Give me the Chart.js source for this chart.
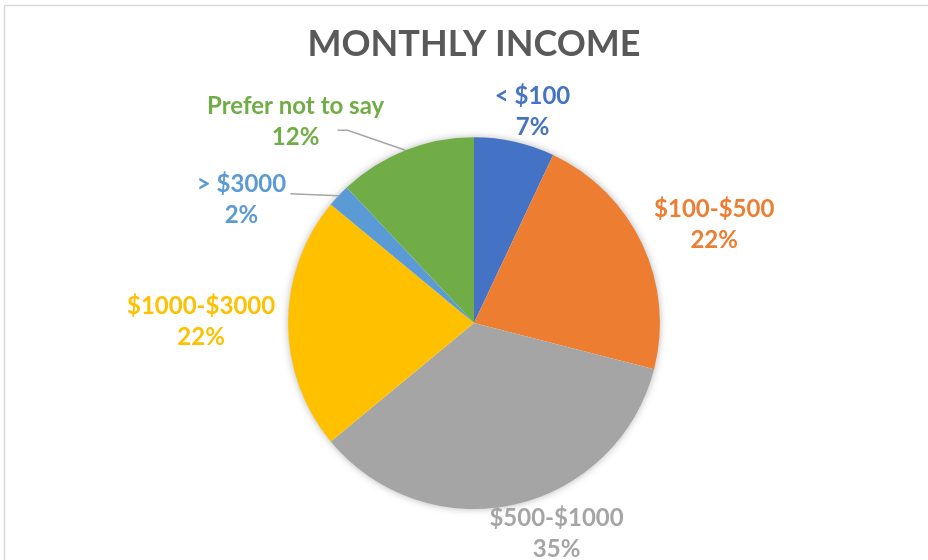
<!DOCTYPE html>
<html>
<head>
<meta charset="utf-8">
<script src="https://cdn.jsdelivr.net/npm/chart.js@4"></script>
<style>
  html, body { margin: 0; padding: 0; background: #fff; }
  #wrap { width: 928px; height: 560px; }
</style>
</head>
<body>
<div id="wrap"><canvas id="incomeChart" width="928" height="560"></canvas></div>
<script>
// chart data
let categories = ['< $100', '$100-$500', '$500-$1000', '$1000-$3000', '> $3000', 'Prefer not to say'];
let shares = [7, 22, 35, 22, 2, 12];
let sliceColors = ['#4472C4', '#ED7D31', '#A5A5A5', '#FFC000', '#5B9BD5', '#70AD47'];

// where each label sits, relative to the outer middle of its slice
// lead = start of the leader line, relative to the label centre
let labelLayout = [
  { dx: 18, dy: -30 },
  { dx: 72, dy: -19 },
  { dx: 42, dy: 29 },
  { dx: -87, dy: -1 },
  { dx: -97, dy: 4, lead: [49, -6], knee: 0 },
  { dx: -110, dy: -28, lead: [42, 8], knee: 10 }
];

const labelFont = 'bold 24px Lato, "Open Sans", sans-serif';

// light frame round the chart, like the excel chart area
const framePlugin = {
  id: 'frame',
  beforeDraw(chart) {
    const ctx = chart.ctx;
    ctx.save();
    ctx.fillStyle = '#fff';
    ctx.fillRect(0, 0, chart.width, chart.height);
    ctx.strokeStyle = '#d9d9d9';
    ctx.lineWidth = 1.5;
    ctx.strokeRect(4.5, 5.5, chart.width + 20, chart.height + 20);
    ctx.restore();
  }
};

// soft shadow under the pie
const shadowPlugin = {
  id: 'pieShadow',
  beforeDatasetsDraw(chart) {
    const arc = chart.getDatasetMeta(0).data[0];
    if (!arc) return;
    const ctx = chart.ctx;
    ctx.save();
    ctx.shadowColor = 'rgba(0,0,0,0.35)';
    ctx.shadowBlur = 9;
    ctx.fillStyle = '#fff';
    ctx.beginPath();
    ctx.arc(arc.x, arc.y, arc.outerRadius - 1, 0, Math.PI * 2);
    ctx.fill();
    ctx.restore();
  }
};

// category name + percent beside every slice
const sliceLabels = {
  id: 'sliceLabels',
  afterDatasetsDraw(chart) {
    const ctx = chart.ctx;
    const meta = chart.getDatasetMeta(0);
    const total = shares.reduce((a, b) => a + b, 0);
    meta.data.forEach((arc, i) => {
      const mid = (arc.startAngle + arc.endAngle) / 2;
      const ex = arc.x + Math.cos(mid) * arc.outerRadius;
      const ey = arc.y + Math.sin(mid) * arc.outerRadius;
      const lay = labelLayout[i];
      const lx = ex + lay.dx;
      const ly = ey + lay.dy;
      ctx.save();
      if (lay.lead) {
        const sx = lx + lay.lead[0];
        const sy = ly + lay.lead[1];
        ctx.strokeStyle = '#a6a6a6';
        ctx.lineWidth = 1.5;
        ctx.beginPath();
        ctx.moveTo(sx, sy);
        if (lay.knee) ctx.lineTo(sx + lay.knee, sy);
        ctx.lineTo(ex, ey);
        ctx.stroke();
      }
      ctx.font = labelFont;
      ctx.fillStyle = sliceColors[i];
      ctx.textAlign = 'center';
      ctx.textBaseline = 'middle';
      ctx.fillText(categories[i], lx, ly - 15.5);
      ctx.fillText(Math.round(shares[i] / total * 100) + '%', lx, ly + 15.5);
      ctx.restore();
    });
  }
};

new Chart(document.getElementById('incomeChart').getContext('2d'), {
  type: 'pie',
  data: {
    labels: categories,
    datasets: [{
      data: shares,
      backgroundColor: sliceColors,
      borderWidth: 0
    }]
  },
  options: {
    responsive: false,
    animation: false,
    layout: { padding: { left: 120, right: 100, top: 0, bottom: 51 } },
    plugins: {
      legend: { display: false },
      tooltip: { enabled: false },
      title: {
        display: true,
        text: 'MONTHLY INCOME',
        color: '#595959',
        font: { family: 'Lato, "Open Sans", sans-serif', size: 36, weight: 'bold', lineHeight: 1.2 },
        padding: { top: 23, bottom: 71 }
      }
    }
  },
  plugins: [framePlugin, shadowPlugin, sliceLabels]
});
</script>
</body>
</html>
